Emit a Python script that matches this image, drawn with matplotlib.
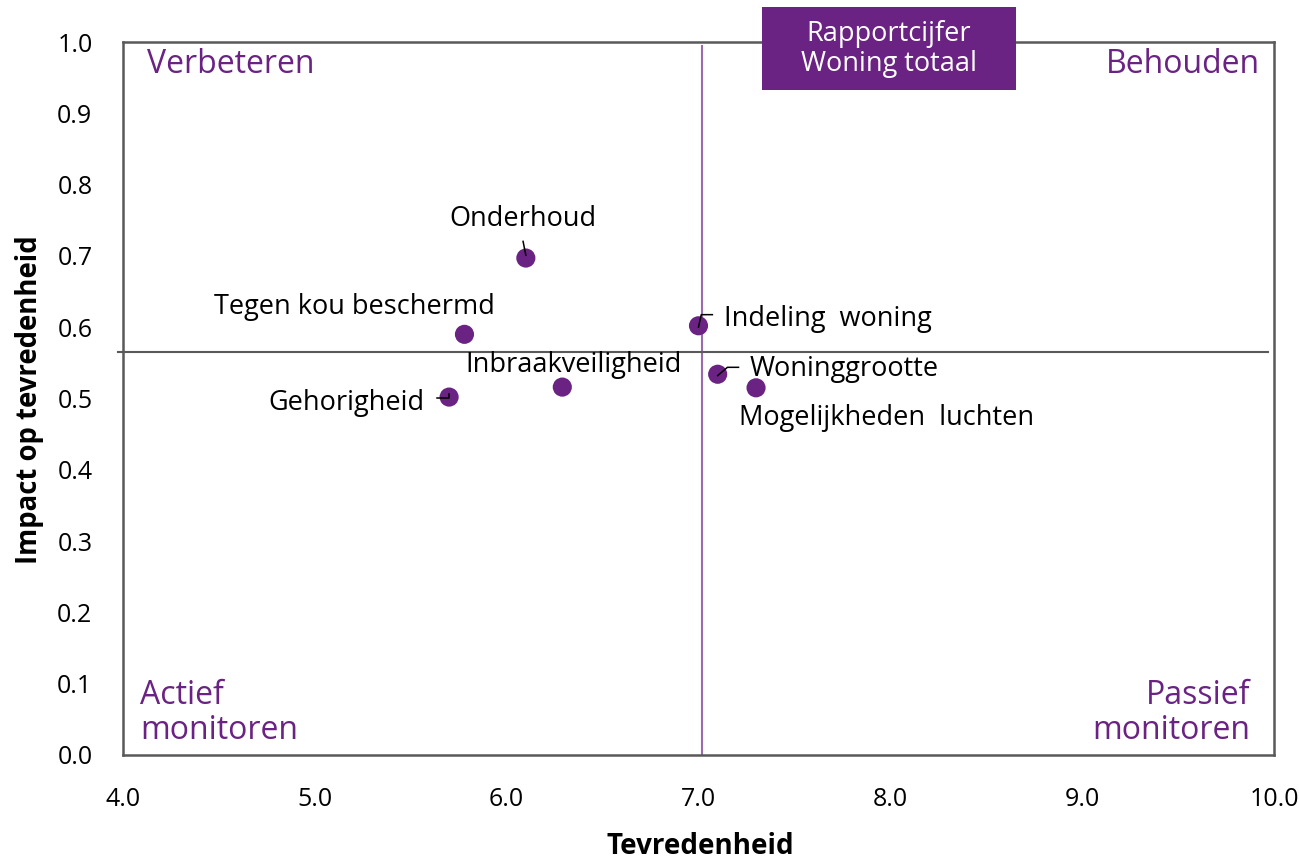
import matplotlib
matplotlib.use("Agg")
import matplotlib.pyplot as plt
from matplotlib.patches import Rectangle

plt.rcParams['font.family'] = ['Open Sans', 'DejaVu Sans']

labels = ["Onderhoud", "Tegen kou beschermd", "Indeling  woning", "Inbraakveiligheid",
          "Gehorigheid", "Woninggrootte", "Mogelijkheden  luchten"]
tevredenheid = [6.10, 5.78, 7.00, 6.29, 5.70, 7.10, 7.30]
impact = [0.697, 0.590, 0.602, 0.516, 0.502, 0.534, 0.515]
avg_tevredenheid = 7.02
avg_impact = 0.565
xticks = [4.0, 5.0, 6.0, 7.0, 8.0, 9.0, 10.0]
yticks = [0.0, 0.1, 0.2, 0.3, 0.4, 0.5, 0.6, 0.7, 0.8, 0.9, 1.0]

purple = "#6B2383"
gray = "#595959"

fig = plt.figure(figsize=(12.99, 8.58), dpi=100)
ax = fig.add_axes([123/1299, 103/858, 1151/1299, 713/858])
ax.set_xlim(4, 10)
ax.set_ylim(0, 1)

ax.axvline(avg_tevredenheid, ymin=0, ymax=0.995, color="#9B6BB0", lw=1.5, zorder=1)
ax.axhline(avg_impact, xmin=-0.004, xmax=0.995, color=gray, lw=1.5, zorder=1, clip_on=False)

ax.scatter(tevredenheid, impact, s=190, color=purple, zorder=3, edgecolor='none')

# label offsets in points (text anchor relative to point)
offsets = {
    "Onderhoud": ((-2, 28), 'center'),
    "Tegen kou beschermd": ((-79, 20), 'center'),
    "Indeling  woning": ((18, 5), 'left'),
    "Inbraakveiligheid": ((-70, 16), 'left'),
    "Gehorigheid": ((-18, -4), 'right'),
    "Woninggrootte": ((23, 4), 'left'),
    "Mogelijkheden  luchten": ((-12, -22), 'left'),
}
for lab, x, y in zip(labels, tevredenheid, impact):
    (dx, dy), ha = offsets[lab]
    ax.annotate(lab, (x, y), xytext=(dx, dy), textcoords='offset points',
                ha=ha, va='center', fontsize=19.5, color='black', zorder=4)

def leader(x, y, pts):
    disp = ax.transData.transform((x, y))
    pts_disp = [(disp[0] + px * fig.dpi / 72, disp[1] + py * fig.dpi / 72) for px, py in pts]
    inv = ax.transData.inverted()
    data = [inv.transform(p) for p in pts_disp]
    ax.plot([d[0] for d in data], [d[1] for d in data], color='black', lw=1.1,
            zorder=5, clip_on=False)

leader(tevredenheid[0], impact[0], [(0, 2), (-2, 12)])
leader(tevredenheid[2], impact[2], [(0, -1), (2, 8), (10, 8)])
leader(tevredenheid[5], impact[5], [(0, -1), (7, 5), (15, 5)])
leader(tevredenheid[4], impact[4], [(0, 2), (0, -1), (-9, -1)])

for sp in ax.spines.values():
    sp.set_color(gray)
    sp.set_linewidth(1.8)

ax.set_xticks(xticks)
ax.set_xticklabels([f"{v:.1f}" for v in xticks])
ax.set_yticks(yticks)
ax.set_yticklabels([f"{v:.1f}" for v in yticks])
ax.tick_params(axis='both', length=0, labelsize=18)
ax.tick_params(axis='x', pad=23)
ax.tick_params(axis='y', pad=22)

fig.text(700/1299, 1 - 846/858, "Tevredenheid", fontsize=20, fontweight='bold',
         ha='center', va='center')
fig.text(30/1299, 1 - 400/858, "Impact op tevredenheid", fontsize=19.8, fontweight='bold',
         ha='center', va='center', rotation=90)

qkw = dict(fontsize=23, color=purple, transform=ax.transAxes)
ax.text(0.021, 0.968, "Verbeteren", ha='left', va='center', **qkw)
ax.text(0.988, 0.968, "Behouden", ha='right', va='center', **qkw)
ax.text(0.015, 0.059, "Actief\nmonitoren", ha='left', va='center', linespacing=1.1, **qkw)
ax.text(0.979, 0.059, "Passief\nmonitoren", ha='right', va='center',
        multialignment='right', linespacing=1.1, **qkw)

ax.add_patch(Rectangle((7.33, 0.933), 1.326, 0.116, facecolor=purple, edgecolor='none',
                       zorder=6, clip_on=False))
ax.text(7.993, 0.99, "Rapportcijfer\nWoning totaal", ha='center', va='center', fontsize=19.5,
        color='white', linespacing=1.1, zorder=7)

fig.savefig("out.png", dpi=100)
